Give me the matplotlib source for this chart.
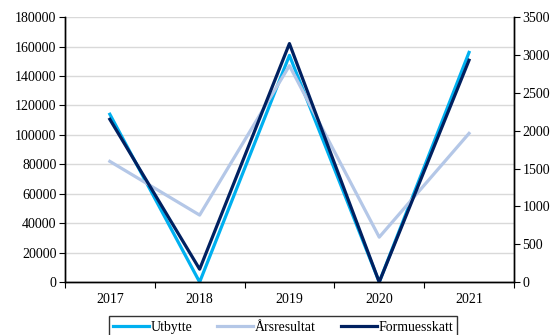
import matplotlib
matplotlib.use("Agg")
import matplotlib.pyplot as plt
from matplotlib.ticker import MultipleLocator, FixedLocator

years = ["2017", "2018", "2019", "2020", "2021"]
utbytte = [114000, 0, 154000, 0, 156000]
arsresultat = [82000, 45500, 147000, 30500, 101000]
formuesskatt = [2150, 170, 3150, 0, 2930]

plt.rcParams["font.family"] = ["Liberation Serif", "DejaVu Serif"]
plt.rcParams["font.size"] = 10

fig = plt.figure(figsize=(5.55, 3.35), dpi=100)
ax = fig.add_axes([0.117, 0.158, 0.809, 0.791])
ax2 = ax.twinx()

x = list(range(len(years)))
l1, = ax.plot(x, utbytte, color="#00B0F0", lw=2.3, label="Utbytte")
l2, = ax.plot(x, arsresultat, color="#B4C7E7", lw=2.3, label="Årsresultat")
l3, = ax2.plot(x, formuesskatt, color="#002060", lw=2.3, label="Formuesskatt")

ax.set_ylim(0, 180000)
ax.yaxis.set_major_locator(MultipleLocator(20000))
ax2.set_ylim(0, 3500)
ax2.yaxis.set_major_locator(MultipleLocator(500))
ax.set_xlim(-0.5, len(years) - 0.5)

# ticks between categories, labels centred on them
ax.xaxis.set_major_locator(FixedLocator([i - 0.5 for i in range(len(years) + 1)]))
ax.xaxis.set_minor_locator(FixedLocator(x))
ax.set_xticklabels([], minor=False)
ax.set_xticklabels(years, minor=True)
ax.tick_params(axis="x", which="minor", length=0, pad=8)
ax.tick_params(axis="x", which="major", length=4, direction="out")
ax.tick_params(axis="y", length=4, direction="out", pad=2)
ax2.tick_params(axis="y", length=4, direction="out", pad=2)

ax.grid(axis="y", color="#D9D9D9", lw=1)
ax.set_axisbelow(True)
for a in (ax, ax2):
    a.spines["top"].set_visible(False)
    for s in ("left", "right", "bottom"):
        a.spines[s].set_color("black")
        a.spines[s].set_linewidth(1)

leg = fig.legend(handles=[l1, l2, l3], loc="upper center",
                 bbox_to_anchor=(0.51, 0.076), ncol=3, frameon=True,
                 fancybox=False, edgecolor="black", handlelength=2.6,
                 handletextpad=0.1, columnspacing=1.8, borderpad=0.3)
leg.get_frame().set_linewidth(1)

fig.savefig("out.png", dpi=100)
